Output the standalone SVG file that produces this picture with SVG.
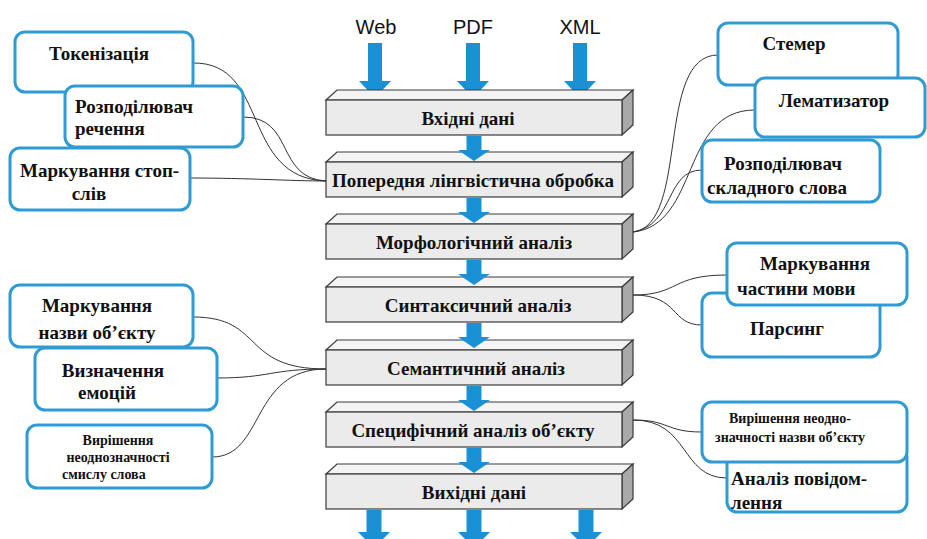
<svg xmlns="http://www.w3.org/2000/svg" xmlns:xlink="http://www.w3.org/1999/xlink" width="927" height="539" viewBox="0 0 927 539">
<style>
.node{fill:#fff;stroke:#2f9bd2;stroke-width:3}
.t{font-family:"Liberation Serif","DejaVu Serif","Times New Roman",serif;font-weight:bold;fill:#111;font-size:19px}
.s{font-size:14px}
.c{text-anchor:middle}
.lbl{font-family:"Liberation Sans",Arial,sans-serif;font-size:20px;fill:#111;text-anchor:middle}
.conn path{fill:none;stroke:#333;stroke-width:1}
.arrow{fill:#1a90d5}
.front{fill:#ebebeb;stroke:#3a3a3a;stroke-width:1.2}
.top{fill:#f4f4f4;stroke:#3a3a3a;stroke-width:1.2}
.side{fill:#a9a9a9;stroke:#3a3a3a;stroke-width:1.2}
</style>
<defs>
<g id="bar">
<polygon class="top" points="0,0 11,-10 307,-10 296,0"/>
<polygon class="side" points="296,0 307,-10 307,25 296,35"/>
<rect class="front" x="0" y="0" width="296" height="35"/>
</g>
<path id="arr-in" class="arrow" d="M-7,0 H7 V38 H16 L0,55 L-16,38 H-7 Z"/>
<path id="arr-mid" class="arrow" d="M-7.5,0 H7.5 V14 H16 L0,25 L-16,14 H-7.5 Z"/>
<path id="arr-out" class="arrow" d="M-7.5,0 H7.5 V22 H16 L0,38 L-16,22 H-7.5 Z"/>
</defs>
<rect width="927" height="539" fill="#fff"/>

<g id="inputs">
<text class="lbl" x="376" y="34">Web</text>
<text class="lbl" x="473" y="34">PDF</text>
<text class="lbl" x="580" y="34">XML</text>
<use href="#arr-in" x="375" y="43"/>
<use href="#arr-in" x="473" y="43"/>
<use href="#arr-in" x="580" y="43"/>
</g>

<g id="connectors" class="conn">
<path d="M193,63 C270,62 240,178 326,181"/>
<path d="M243,117 C295,117 275,178 326,181"/>
<path d="M190,178 C250,178 290,181 326,181"/>
<path d="M633,232 C690,225 655,55 718,55"/>
<path d="M633,232 C700,225 680,110 755,110"/>
<path d="M633,232 C675,225 665,170 702,170"/>
<path d="M633,295 C680,295 670,275 727,275"/>
<path d="M633,295 C680,295 670,325 702,325"/>
<path d="M633,420 C670,420 665,432 702,432"/>
<path d="M633,420 C690,420 680,478 727,478"/>
<path d="M193,317 C265,317 240,369 326,369"/>
<path d="M217,378 C270,378 270,369 326,369"/>
<path d="M212,457 C265,457 250,369 326,369"/>
</g>

<g id="n-input">
<use href="#bar" x="326" y="100"/>
<text class="t c" x="468" y="125">Вхідні дані</text>
</g>
<g id="n-prep">
<use href="#bar" x="326" y="162"/>
<text class="t c" x="473" y="187" textLength="282">Попередня лінгвістична обробка</text>
</g>
<g id="n-morph">
<use href="#bar" x="326" y="224"/>
<text class="t c" x="474" y="249">Морфологічний аналіз</text>
</g>
<g id="n-synt">
<use href="#bar" x="326" y="287"/>
<text class="t c" x="478" y="312">Синтаксичний аналіз</text>
</g>
<g id="n-sem">
<use href="#bar" x="326" y="350"/>
<text class="t c" x="476" y="375">Семантичний аналіз</text>
</g>
<g id="n-spec">
<use href="#bar" x="326" y="412"/>
<text class="t c" x="473" y="437">Специфічний аналіз об’єкту</text>
</g>
<g id="n-output">
<use href="#bar" x="326" y="474"/>
<text class="t c" x="474" y="499">Вихідні дані</text>
</g>

<g id="flow-arrows">
<use href="#arr-mid" x="474" y="136"/>
<use href="#arr-mid" x="474" y="198"/>
<use href="#arr-mid" x="474" y="260"/>
<use href="#arr-mid" x="474" y="323"/>
<use href="#arr-mid" x="474" y="386"/>
<use href="#arr-mid" x="474" y="448"/>
<use href="#arr-out" x="374" y="510"/>
<use href="#arr-out" x="474" y="510"/>
<use href="#arr-out" x="586" y="510"/>
</g>

<g id="n-token">
<rect class="node" x="15" y="32" width="178" height="60" rx="10"/>
<text class="t c" x="99" y="60">Токенізація</text>
</g>
<g id="n-sentsplit">
<rect class="node" x="65" y="86" width="178" height="61" rx="10"/>
<text class="t" x="75" y="113">Розподілювач</text>
<text class="t" x="75" y="135">речення</text>
</g>
<g id="n-stopwords">
<rect class="node" x="10" y="148" width="180" height="62" rx="10"/>
<text class="t" x="20" y="177">Маркування стоп-</text>
<text class="t c" x="89" y="200">слів</text>
</g>

<g id="n-stemmer">
<rect class="node" x="718" y="23" width="180" height="62" rx="10"/>
<text class="t c" x="794" y="50">Стемер</text>
</g>
<g id="n-lemma">
<rect class="node" x="755" y="78" width="170" height="59" rx="10"/>
<text class="t c" x="834" y="107">Лематизатор</text>
</g>
<g id="n-compound">
<rect class="node" x="702" y="140" width="178" height="62" rx="10"/>
<text class="t c" x="783" y="170">Розподілювач</text>
<text class="t c" x="777" y="194">складного слова</text>
</g>

<g id="n-parsing">
<rect class="node" x="702" y="293" width="178" height="64" rx="10"/>
<text class="t c" x="787" y="335">Парсинг</text>
</g>
<g id="n-pos">
<rect class="node" x="727" y="243" width="180" height="62" rx="10"/>
<text class="t c" x="815" y="270">Маркування</text>
<text class="t" x="737" y="295">частини мови</text>
</g>

<g id="n-message">
<rect class="node" x="727" y="448" width="180" height="64" rx="10"/>
<text class="t" x="731" y="485">Аналіз повідом-</text>
<text class="t" x="731" y="509">лення</text>
</g>
<g id="n-nameambig">
<rect class="node" x="702" y="402" width="205" height="60" rx="10"/>
<text class="t s c" x="790" y="423">Вирішення неодно-</text>
<text class="t s c" x="790" y="442">значності назви об’єкту</text>
</g>

<g id="n-nameobj">
<rect class="node" x="10" y="285" width="183" height="62" rx="10"/>
<text class="t c" x="97" y="312">Маркування</text>
<text class="t c" x="97" y="339">назви об’єкту</text>
</g>
<g id="n-emotion">
<rect class="node" x="35" y="348" width="182" height="62" rx="10"/>
<text class="t c" x="113" y="377">Визначення</text>
<text class="t c" x="107" y="399">емоцій</text>
</g>
<g id="n-wsd">
<rect class="node" x="27" y="425" width="185" height="63" rx="10"/>
<text class="t s c" x="118" y="445">Вирішення</text>
<text class="t s c" x="118" y="462">неоднозначності</text>
<text class="t s" x="62" y="479">смислу слова</text>
</g>
</svg>
